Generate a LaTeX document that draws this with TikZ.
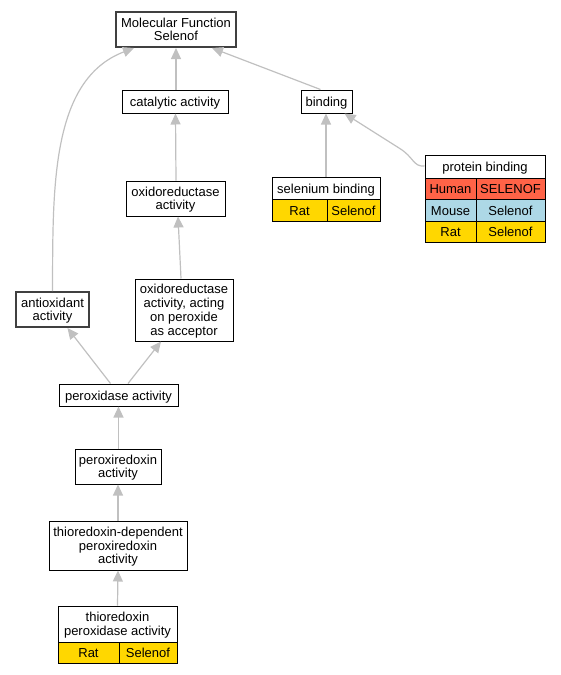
\documentclass[tikz,border=0pt]{standalone}
\usepackage{fontspec}
\setmainfont{Liberation Sans}
\usetikzlibrary{arrows.meta}
\definecolor{edgegray}{HTML}{C0C0C0}
\definecolor{humanred}{HTML}{FF6347}
\definecolor{mouseblue}{HTML}{ADD8E6}
\definecolor{ratgold}{HTML}{FFD700}
\definecolor{thickgray}{HTML}{404040}
\newcommand{\firstline}{\rule{0pt}{13pt}}
\tikzset{
  box/.style={draw=black, line width=1pt, fill=white, rectangle, inner sep=0pt, align=center,
    font=\fontsize{13}{13.8}\selectfont,
    execute at begin node={\rule{0pt}{14.5pt}},
    execute at end node={\rule[-4pt]{0pt}{0pt}}},
  thickbox/.style={box, draw=thickgray, line width=2pt},
  cell/.style={box},
  edge/.style={draw=edgegray, line width=1.2pt,
    -{Triangle[length=11pt,width=10pt,fill=edgegray,color=edgegray]}},
}
\begin{document}
\begin{tikzpicture}[x=1pt,y=-1pt]
\useasboundingbox (0,0) rectangle (561,675);
% nodes
\node[thickbox, minimum width=120, minimum height=35] (mf) at (176,29.5) {\firstline Molecular Function\\Selenof};
\node[box, minimum width=106, minimum height=23] (cat) at (175,101.5) {catalytic activity};
\node[box, minimum width=51, minimum height=23] (bind) at (326.5,101.5) {binding};
\node[box, minimum width=99, minimum height=35] (oxred) at (175.5,198.5) {\firstline oxidoreductase\\activity};
% selenium binding table
\node[cell, minimum width=108, minimum height=23] (selb) at (326,188.5) {selenium binding};
\node[cell, fill=ratgold, minimum width=55, minimum height=22] (selbrat) at (299.5,210.5) {Rat};
\node[cell, fill=ratgold, minimum width=53, minimum height=22] (selbgene) at (353.5,210.5) {Selenof};
% protein binding table
\node[cell, minimum width=120, minimum height=23] (pb) at (485,166.5) {protein binding};
\node[cell, fill=humanred, minimum width=51, minimum height=21] (pbhum) at (450.5,188.5) {Human};
\node[cell, fill=humanred, minimum width=69, minimum height=21] (pbhumg) at (510.5,188.5) {SELENOF};
\node[cell, fill=mouseblue, minimum width=51, minimum height=22] (pbmou) at (450.5,210) {Mouse};
\node[cell, fill=mouseblue, minimum width=69, minimum height=22] (pbmoug) at (510.5,210) {Selenof};
\node[cell, fill=ratgold, minimum width=51, minimum height=21] (pbrat) at (450.5,231.5) {Rat};
\node[cell, fill=ratgold, minimum width=69, minimum height=21] (pbratg) at (510.5,231.5) {Selenof};
% left column
\node[thickbox, minimum width=73, minimum height=35] (anti) at (52.5,309.5) {\firstline antioxidant\\activity};
\node[box, minimum width=98, minimum height=62] (acting) at (184,310) {\firstline oxidoreductase\\activity, acting\\on peroxide\\as acceptor};
\node[box, minimum width=119, minimum height=22] (perox) at (118.5,395) {peroxidase activity};
\node[box, minimum width=86, minimum height=35] (prx) at (118,466.5) {\firstline peroxiredoxin\\activity};
\node[box, minimum width=138, minimum height=49] (tdp) at (118,545.5) {\firstline thioredoxin-dependent\\peroxiredoxin\\activity};
\node[cell, minimum width=119, minimum height=36] (tpa) at (117.5,624) {\firstline thioredoxin\\peroxidase activity};
\node[cell, fill=ratgold, minimum width=61, minimum height=21] (tparat) at (88.5,652.5) {Rat};
\node[cell, fill=ratgold, minimum width=58, minimum height=21] (tpagene) at (148,652.5) {Selenof};
% edges
\draw[edge] ([xshift=1]cat.north) -- ([xshift=0]mf.south);
\draw[edge] ([xshift=20]bind.north west) -- ([xshift=36]mf.south);
\draw[edge] ([xshift=0.5]oxred.north) -- ([xshift=0.5]cat.north |- cat.south);
\draw[edge] (selb.north) -- (selb.north |- bind.south);
\draw[edge] ([yshift=0.5]pb.west) .. controls (413,167) and (414,157) .. (399,148) -- ([xshift=-8]bind.south east);
\draw[edge] (anti.north) .. controls (53,190) and (50,80) .. ([xshift=-42]mf.south);
\draw[edge] ([xshift=-3]acting.north) -- ([xshift=2.5]oxred.south);
\draw[edge] ([xshift=-8]perox.north) -- ([xshift=15]anti.south);
\draw[edge] ([xshift=9.5]perox.north) -- ([xshift=-23]acting.south);
\draw[edge] ([xshift=0.5]prx.north) -- ([xshift=0]perox.south);
\draw[edge] (tdp.north) -- (prx.south);
\draw[edge] (tpa.north) -- (tdp.south);
\end{tikzpicture}
\end{document}
